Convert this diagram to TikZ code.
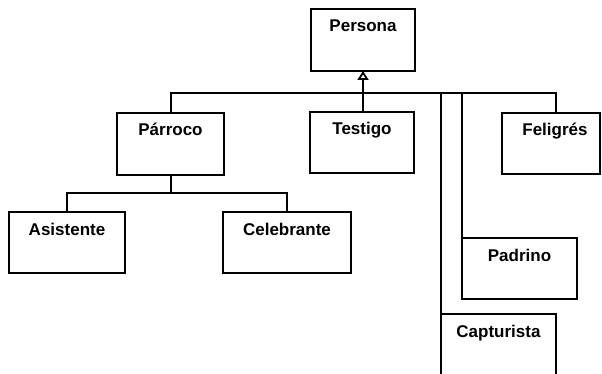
\documentclass[tikz,border=0pt]{standalone}
\usepackage{fontspec}
\setmainfont{Liberation Sans}
\usetikzlibrary{arrows.meta}
\begin{document}
\begin{tikzpicture}[x=1pt,y=1pt,
  classbox/.style={draw=black, line width=2pt, rectangle, inner sep=0pt, outer sep=0pt},
  classname/.style={anchor=base, inner sep=0pt, font=\fontsize{17}{20}\selectfont\bfseries},
  link/.style={draw=black, line width=2pt},
  inherit/.style={link, -{Triangle[open, length=9pt, width=11pt, line width=1.8pt]}}]
\useasboundingbox (0,0) rectangle (602,-374);
\clip (0,0) rectangle (602,-374);
\fill[white] (0,0) rectangle (602,-374);

% class boxes (x from left, y downwards)
\node[classbox, minimum width=104pt, minimum height=62pt] (persona)    at (363,-40)    {};
\node[classbox, minimum width=107pt, minimum height=62pt] (parroco)    at (170.5,-144) {};
\node[classbox, minimum width=104pt, minimum height=61pt] (testigo)    at (362,-142.5) {};
\node[classbox, minimum width=98pt,  minimum height=61pt] (feligres)   at (551,-143.5) {};
\node[classbox, minimum width=116pt, minimum height=61pt] (asistente)  at (67,-242.5)  {};
\node[classbox, minimum width=128pt, minimum height=61pt] (celebrante) at (287,-242.5) {};
\node[classbox, minimum width=115pt, minimum height=61pt] (padrino)    at (519.5,-268.5) {};
\node[classbox, minimum width=115pt, minimum height=90pt] (capturista) at (498.5,-359) {};

% class names
\node[classname] at ([yshift=-23pt]persona.north)    {Persona};
\node[classname] at ([yshift=-23pt]parroco.north)    {Párroco};
\node[classname] at ([yshift=-23pt]testigo.north)    {Testigo};
\node[classname] at ([xshift=4pt,yshift=-23pt]feligres.north) {Feligrés};
\node[classname] at ([yshift=-23pt]asistente.north)  {Asistente};
\node[classname] at ([yshift=-23pt]celebrante.north) {Celebrante};
\node[classname] at ([yshift=-23pt]padrino.north)    {Padrino};
\node[classname] at ([yshift=-23pt]capturista.north) {Capturista};

% generalization to Persona
\coordinate (bus) at (0,-93);
\coordinate (sub) at (0,-193);
\coordinate (felin) at ([xshift=5pt]feligres.north);
\draw[inherit] ([xshift=1pt]testigo.north) -- ([xshift=1pt]testigo.north |- persona.south);
\draw[link] (parroco.north) |- (bus -| felin) -- (felin);
\draw[link] (bus -| capturista.north west) -- (capturista.north west);
\draw[link] (bus -| padrino.north west) -- (padrino.north west);

% specializations of Párroco
\draw[link] (parroco.south) -- (sub -| parroco.south);
\draw[link] (asistente.north) |- (sub -| parroco.south) -| (celebrante.north);
\end{tikzpicture}
\end{document}
